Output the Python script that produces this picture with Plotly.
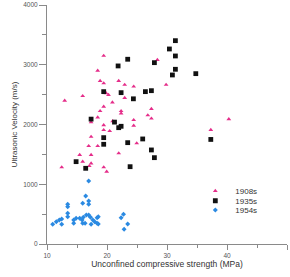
import plotly.graph_objects as go

# ---- data ----
s1908_x = [19.45, 18.45, 18.85, 19.45, 21.95, 22.95, 24.45, 28.4, 29.85, 19.85, 20.25, 15.95,
           12.95, 22.95, 20.9, 19.45, 18.85, 22.35, 22.35, 18.45, 27.4, 26.8, 27.4, 24.45,
           24.45, 40.3, 37.3, 20.95, 19.45, 17.35, 19.45, 20.45, 17.35, 18.45, 16.95, 21.95,
           15.45, 17.35, 15.95, 17.35, 17.05, 12.45, 19.45, 19.95, 24.95, 21.25]
s1908_y = [3150, 2900, 2730, 2690, 2730, 2665, 2635, 3080, 2665, 2525, 2495, 2477,
           2400, 2445, 2370, 2300, 2225, 2225, 2185, 2120, 2260, 2155, 2100, 2075,
           1980, 2090, 1910, 2055, 1990, 2040, 1908, 1890, 1795, 1640, 1640, 1518,
           1490, 1490, 1378, 1350, 1305, 1284, 1284, 1211, 1686, 2040]

s1935_x = [23.45, 21.85, 31.4, 30.4, 31.4, 27.9, 31.4, 30.9, 34.8, 19.45, 22.35, 26.4,
           27.4, 24.4, 17.35, 21.25, 21.95, 22.35, 19.45, 19.45, 25.95, 23.45, 27.4, 27.9,
           23.85, 14.85, 16.45, 37.3]
s1935_y = [3092, 2980, 3403, 3264, 3147, 3035, 2924, 2829, 2851, 2550, 2533, 2550,
           2566, 2430, 2090, 2040, 1947, 1970, 1780, 1669, 1758, 1696, 1574, 1445,
           1294, 1378, 1267, 1750]

s1954_x = [16.95, 16.45, 15.95, 16.95, 16.95, 13.45, 13.45, 13.45, 13.45, 10.95, 11.55, 12.05,
           12.45, 12.45, 14.45, 14.45, 14.85, 15.45, 15.85, 16.05, 15.95, 16.35, 16.55, 16.95,
           17.25, 17.35, 17.65, 17.95, 18.35, 18.55, 18.35, 18.55, 22.75, 22.35, 23.45, 22.85]
s1954_y = [1055, 804, 681, 720, 665, 665, 625, 514, 457, 330, 373, 402,
           418, 330, 402, 346, 430, 430, 402, 447, 346, 346, 485, 485,
           447, 330, 402, 373, 440, 457, 346, 335, 497, 440, 335, 246]

series_names = ["1908s", "1935s", "1954s"]
x_title = "Unconfined compressive strength (MPa)"
y_title = "Ultrasonic Velocity (m/s)"

FONT = "Liberation Sans, Arial, sans-serif"
PINK = "#E52D8A"
BLACK = "#111111"
BLUE = "#2B8AE2"

fig = go.Figure()
fig.add_trace(go.Scatter(x=s1908_x, y=s1908_y, mode="markers", name=series_names[0],
                         marker=dict(symbol="triangle-up", size=4.2, color=PINK),
                         legend="legend"))
fig.add_trace(go.Scatter(x=s1935_x, y=s1935_y, mode="markers", name=series_names[1],
                         marker=dict(symbol="square", size=4.8, color=BLACK),
                         legend="legend2"))
fig.add_trace(go.Scatter(x=s1954_x, y=s1954_y, mode="markers", name=series_names[2],
                         marker=dict(symbol="diamond", size=3.8, color=BLUE),
                         legend="legend3"))

axis_common = dict(showgrid=False, zeroline=False, showline=True, linecolor="#8a8a8a",
                   linewidth=1, ticks="outside", tickcolor="#8a8a8a",
                   tickfont=dict(family=FONT, size=6.5, color="#555555"))

fig.update_xaxes(range=[10, 50], dtick=10, tick0=10, ticklen=5,
                 minor=dict(dtick=5, ticklen=3, ticks="outside", tickcolor="#8a8a8a"),
                 title=dict(text=x_title, font=dict(family=FONT, size=8.5, color="#333333"),
                            standoff=2),
                 **axis_common)
fig.update_yaxes(range=[0, 4000], dtick=1000, ticklen=7,
                 minor=dict(dtick=500, ticklen=4, ticks="outside", tickcolor="#8a8a8a"),
                 title=dict(text=y_title, font=dict(family=FONT, size=8, color="#333333"),
                            standoff=4),
                 **axis_common)

leg_common = dict(x=0.618, xanchor="left", yanchor="middle", bgcolor="rgba(0,0,0,0)",
                  borderwidth=0, font=dict(family=FONT, size=8, color="#333333"))
fig.update_layout(
    width=290, height=277,
    margin=dict(l=47, r=3, t=5, b=33, autoexpand=False),
    paper_bgcolor="white", plot_bgcolor="white",
    showlegend=True,
    legend=dict(y=0.222, **leg_common),
    legend2=dict(y=0.181, **leg_common),
    legend3=dict(y=0.142, **leg_common),
)

fig.write_html("out.html")
